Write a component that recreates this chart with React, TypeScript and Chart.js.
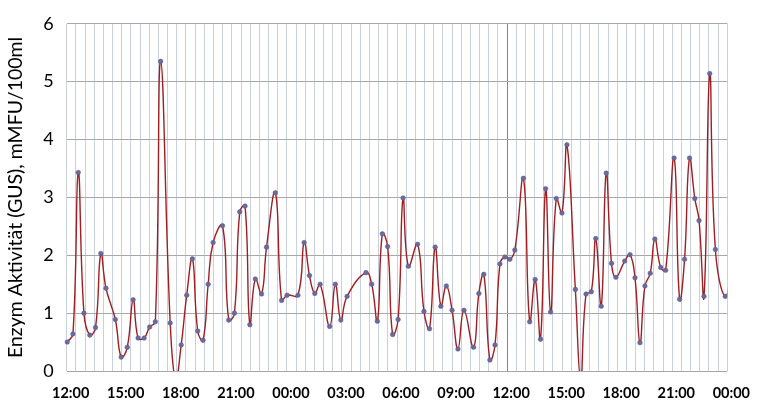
import React, { useEffect, useRef } from "react";
import { Chart, registerables } from "chart.js";

Chart.register(...registerables);

// hours elapsed since 12:00 on day 1
const sampleHours = [
  0.03, 0.34, 0.63, 0.94, 1.26, 1.57, 1.86, 2.14, 2.65, 2.97,
  3.30, 3.62, 3.89, 4.22, 4.52, 4.83, 5.12, 5.64, 5.94, 6.24, 6.54,
  6.85, 7.14, 7.43, 7.71, 7.98, 8.49, 8.83, 9.14, 9.43, 9.72,
  9.98, 10.28, 10.62, 10.89, 11.37, 11.71, 12.01, 12.60, 12.94, 13.23,
  13.52, 13.81, 14.33, 14.64, 14.94, 15.28, 16.31, 16.62, 16.93, 17.20,
  17.49, 17.76, 18.06, 18.33, 18.62, 19.12, 19.47, 19.77, 20.08, 20.39,
  20.69, 21.00, 21.32, 21.65, 22.17, 22.46, 22.73, 23.06, 23.34, 23.61,
  23.88, 24.15, 24.42, 24.89, 25.23, 25.53, 25.82, 26.10, 26.37, 26.68,
  26.99, 27.26, 27.72, 28.01, 28.30, 28.59, 28.83, 29.13, 29.40, 29.69, 29.93,
  30.41, 30.70, 30.97, 31.24, 31.51, 31.80, 32.05, 32.37, 32.64, 33.10,
  33.40, 33.67, 33.94, 34.23, 34.46, 34.73, 35.04, 35.35, 35.89, 36.30,
];

const enzymeActivity = [
  0.50, 0.64, 3.43, 1.00, 0.62, 0.75, 2.03, 1.43, 0.89, 0.24,
  0.41, 1.23, 0.57, 0.57, 0.76, 0.85, 5.35, 0.83, -0.15, 0.45, 1.31,
  1.94, 0.69, 0.53, 1.50, 2.22, 2.51, 0.88, 1.00, 2.75, 2.85,
  0.80, 1.59, 1.33, 2.14, 3.08, 1.22, 1.31, 1.31, 2.22, 1.65,
  1.34, 1.50, 0.77, 1.50, 0.88, 1.29, 1.70, 1.50, 0.86, 2.37,
  2.15, 0.63, 0.89, 2.99, 1.81, 2.19, 1.03, 0.73, 2.14, 1.12,
  1.47, 1.05, 0.38, 1.05, 0.41, 1.34, 1.67, 0.19, 0.45, 1.85,
  1.97, 1.93, 2.09, 3.33, 0.85, 1.58, 0.55, 3.15, 1.02, 2.98,
  2.73, 3.91, 1.41, -0.15, 1.33, 1.37, 2.29, 1.12, 3.42, 1.86, 1.62,
  1.90, 2.01, 1.61, 0.49, 1.47, 1.69, 2.28, 1.79, 1.74, 3.68,
  1.24, 1.93, 3.68, 2.98, 2.60, 1.29, 5.14, 2.10, 1.29, 1.95,
];

const timeLabels = [
  "12:00", "15:00", "18:00", "21:00", "00:00", "03:00", "06:00",
  "09:00", "12:00", "15:00", "18:00", "21:00", "00:00",
];

const yTitle = "Enzym Aktivität (GUS), mMFU/100ml";

export default function App() {
  const canvasRef = useRef<HTMLCanvasElement | null>(null);

  useEffect(() => {
    const canvas = canvasRef.current;
    if (!canvas) return;
    const points = sampleHours.map((h, i) => ({ x: h, y: enzymeActivity[i] }));
    const chart = new Chart(canvas, {
      type: "line",
      data: {
        datasets: [
          {
            data: points,
            borderColor: "#a01e22",
            borderWidth: 1.4,
            tension: 0.45,
            capBezierPoints: false,
            pointRadius: 2.3,
            pointBackgroundColor: "#6c6a9c",
            pointBorderColor: "#5a5888",
            pointBorderWidth: 0.5,
            clip: { left: 5, top: 5, right: 0, bottom: 0 } as any,
          } as any,
        ],
      },
      options: {
        responsive: false,
        animation: false,
        events: [],
        layout: { padding: { left: 0, right: 27.7, top: 21, bottom: 0 } },
        plugins: { legend: { display: false }, tooltip: { enabled: false } },
        scales: {
          x: {
            type: "linear",
            min: 0,
            max: 36,
            afterFit: (s: any) => {
              s.height = 43;
            },
            border: { display: false },
            grid: {
              drawTicks: false,
              color: (ctx: any) =>
                ctx.tick && ctx.tick.value === 24 ? "#858585" : "#c8d0e2",
              lineWidth: 1,
            },
            ticks: {
              stepSize: 0.5,
              autoSkip: false,
              maxRotation: 0,
              padding: 14,
              labelOffset: 4,
              color: "#000",
              font: { family: "Lato", size: 14.5, weight: "bold" },
              callback: (v: any) => {
                const n = Number(v);
                if (Math.abs(n / 3 - Math.round(n / 3)) < 1e-6) {
                  return timeLabels[Math.round(n / 3)];
                }
                return "";
              },
            },
          },
          y: {
            min: 0,
            max: 6,
            afterFit: (s: any) => {
              s.width = 66.7;
            },
            border: { display: false },
            grid: { drawTicks: false, color: "#a8a8a8", lineWidth: 1 },
            ticks: {
              stepSize: 1,
              padding: 13,
              color: "#000",
              font: { family: "Lato", size: 18 },
            },
            title: {
              display: true,
              text: yTitle,
              color: "#000",
              padding: { top: 4, bottom: 0 },
              font: { family: "Lato", size: 19.5 },
            },
          },
        },
      },
    });
    return () => chart.destroy();
  }, []);

  return (
    <div style={{ position: "fixed", left: 0, top: 0, width: 760, height: 414, background: "#fff" }}>
      <canvas ref={canvasRef} width={760} height={414} style={{ width: 760, height: 414 }} />
    </div>
  );
}
